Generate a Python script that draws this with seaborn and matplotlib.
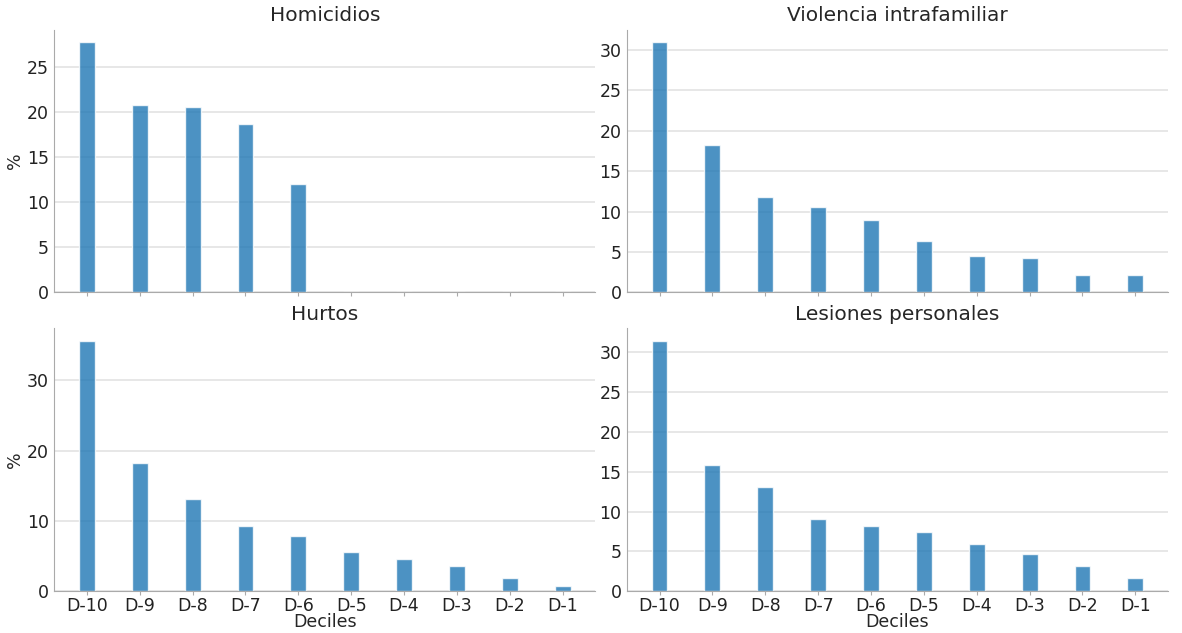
import numpy as np
import pandas as pd
import matplotlib
matplotlib.use("Agg")
import matplotlib.pyplot as plt
import seaborn as sns

deciles = ["D-10", "D-9", "D-8", "D-7", "D-6", "D-5", "D-4", "D-3", "D-2", "D-1"]

homicidios = [27.7, 20.7, 20.5, 18.7, 12.0, 0, 0, 0, 0, 0]
violencia_intrafamiliar = [30.9, 18.2, 11.8, 10.6, 9.0, 6.4, 4.5, 4.3, 2.2, 2.1]
hurtos = [35.6, 18.2, 13.1, 9.3, 7.8, 5.55, 4.6, 3.55, 1.95, 0.8]
lesiones_personales = [31.4, 15.8, 13.1, 9.1, 8.2, 7.45, 5.95, 4.7, 3.15, 1.65]

titles = ["Homicidios", "Violencia intrafamiliar", "Hurtos", "Lesiones personales"]
series = [homicidios, violencia_intrafamiliar, hurtos, lesiones_personales]

sns.set_style("whitegrid", {
    "axes.edgecolor": "#b0b0b0",
    "grid.color": "#e3e3e3",
    "xtick.bottom": True,
    "ytick.left": False,
})
plt.rcParams["font.family"] = ["DejaVu Sans"]

fig, axes = plt.subplots(2, 2, figsize=(11.82, 6.33), dpi=100, sharex=True)
fig.subplots_adjust(left=0.046, right=0.988, top=0.953, bottom=0.066,
                    wspace=0.059, hspace=0.137)

for ax, title, vals in zip(axes.flat, titles, series):
    df = pd.DataFrame({"Deciles": deciles, "pct": vals})
    sns.barplot(data=df, x="Deciles", y="pct", ax=ax, color="#1f77b4",
                alpha=0.8, width=0.3, saturation=1, order=deciles)
    ax.set_xlim(-0.615, 9.615)
    top = max(vals) * 1.05
    ax.set_ylim(0, top)
    ax.set_title(title, fontsize=14.5, pad=6)
    ax.xaxis.grid(False)
    ax.yaxis.grid(True, linewidth=1.2)
    sns.despine(ax=ax)
    ax.spines["left"].set_color("#aaaaaa")
    ax.spines["bottom"].set_color("#aaaaaa")
    ax.tick_params(axis="x", colors="#aaaaaa", labelcolor="#222222",
                   labelsize=12.5, length=3, pad=1, direction="out")
    ax.tick_params(axis="y", labelsize=12.5, labelcolor="#222222", length=0, pad=4)
    ax.set_ylabel("")
    ax.set_xlabel("")

axes[0, 0].set_yticks([0, 5, 10, 15, 20, 25])
axes[0, 1].set_yticks([0, 5, 10, 15, 20, 25, 30])
axes[1, 0].set_yticks([0, 10, 20, 30])
axes[1, 1].set_yticks([0, 5, 10, 15, 20, 25, 30])

for ax in axes[:, 0]:
    ax.set_ylabel("%", fontsize=12.5, labelpad=2)
for ax in axes[1, :]:
    ax.set_xlabel("Deciles", fontsize=12.5, labelpad=-1)
    ax.tick_params(axis="x", labelbottom=True)

fig.savefig("out.png", dpi=100)
